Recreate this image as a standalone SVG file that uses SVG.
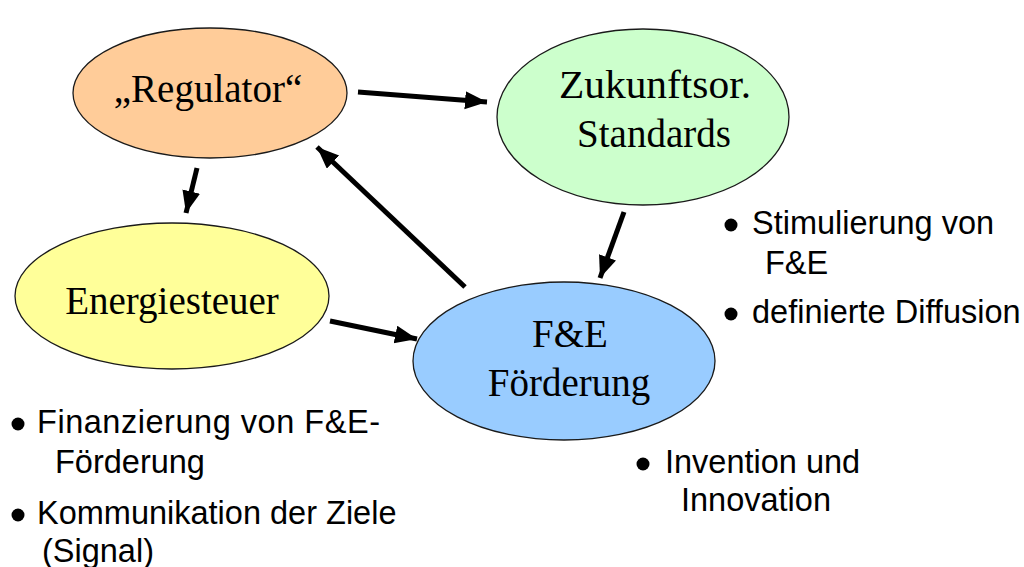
<svg xmlns="http://www.w3.org/2000/svg" width="1024" height="567" viewBox="0 0 1024 567">
<style>
.node ellipse{stroke:#1a1a1a;stroke-width:1.3}
.serif{font-family:"Liberation Serif","Times New Roman",serif;font-size:39px;fill:#000;text-anchor:middle}
.sans{font-family:"Liberation Sans",Arial,sans-serif;font-size:32.5px;fill:#000}
.conn line{stroke:#000;stroke-width:5;marker-end:url(#ah)}
</style>
<defs>
<marker id="ah" markerUnits="userSpaceOnUse" markerWidth="26" markerHeight="22" refX="22" refY="9" orient="auto" viewBox="0 0 26 22">
<path d="M0,0 L22,9 L0,18 z" fill="#000"/>
</marker>
</defs>
<rect width="1024" height="567" fill="#fff"/>
<g id="regulator" class="node">
<ellipse cx="210" cy="93" rx="137" ry="65" fill="#FFCC99"/>
<text class="serif" x="208" y="102">„Regulator“</text>
</g>
<g id="zukunft" class="node">
<ellipse cx="643" cy="117" rx="146" ry="88" fill="#CCFFCC"/>
<text class="serif" x="655" y="98" textLength="192" lengthAdjust="spacingAndGlyphs">Zukunftsor.</text>
<text class="serif" x="654" y="147">Standards</text>
</g>
<g id="energiesteuer" class="node">
<ellipse cx="172" cy="296" rx="157" ry="73" fill="#FFFF99"/>
<text class="serif" x="172" y="314">Energiesteuer</text>
</g>
<g id="fe" class="node">
<ellipse cx="564" cy="361" rx="151" ry="79" fill="#99CCFF"/>
<text class="serif" x="570" y="347">F&amp;E</text>
<text class="serif" x="569" y="396">Förderung</text>
</g>
<g id="connectors" class="conn">
<line x1="358" y1="92" x2="487" y2="102"/>
<line x1="197" y1="168" x2="186" y2="213"/>
<line x1="465" y1="287" x2="317" y2="147"/>
<line x1="624" y1="212" x2="600" y2="278"/>
<line x1="330" y1="321" x2="417" y2="339"/>
</g>
<g id="notes-standards">
<circle cx="731" cy="225" r="6.5"/>
<text class="sans" x="752" y="234">Stimulierung von</text>
<text class="sans" x="765" y="274">F&amp;E</text>
<circle cx="731" cy="314" r="6.5"/>
<text class="sans" x="752" y="323">definierte Diffusion</text>
</g>
<g id="notes-fe">
<circle cx="643" cy="464" r="6.5"/>
<text class="sans" x="665" y="473">Invention und</text>
<text class="sans" x="681" y="511">Innovation</text>
</g>
<g id="notes-steuer">
<circle cx="18" cy="424" r="6.5"/>
<text class="sans" x="37" y="433" textLength="343" lengthAdjust="spacing">Finanzierung von F&amp;E-</text>
<text class="sans" x="55" y="473">Förderung</text>
<circle cx="18" cy="515" r="6.5"/>
<text class="sans" x="37" y="524">Kommunikation der Ziele</text>
<text class="sans" x="42" y="562">(Signal)</text>
</g>
</svg>
